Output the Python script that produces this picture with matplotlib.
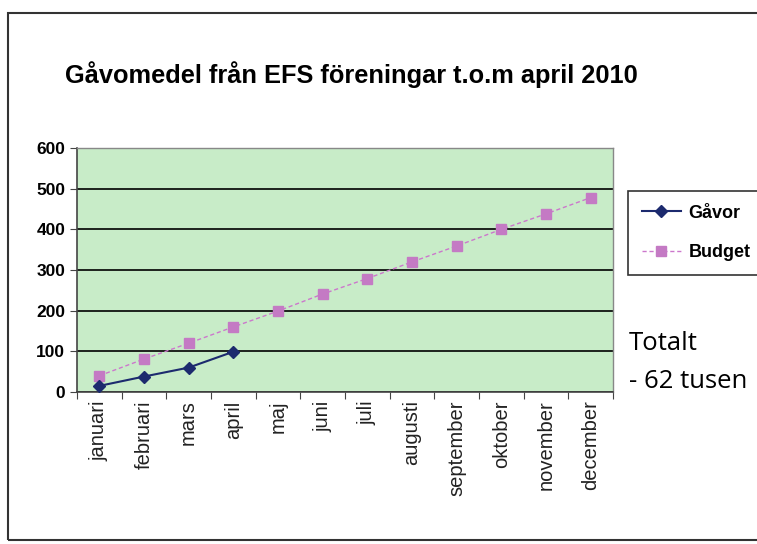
import matplotlib
matplotlib.use("Agg")
import matplotlib.pyplot as plt
from matplotlib.patches import Rectangle

months = ["januari", "februari", "mars", "april", "maj", "juni", "juli",
          "augusti", "september", "oktober", "november", "december"]
gavor = [15, 38, 60, 99]
budget = [40, 81, 120, 160, 199, 241, 279, 320, 359, 400, 438, 478]
yticks = [0, 100, 200, 300, 400, 500, 600]

font = "Liberation Sans"

fig = plt.figure(figsize=(7.57, 5.44), dpi=100)
fig.patch.set_facecolor("white")

# outer chart frame
fig.add_artist(Rectangle((8/757, 4/544), 760/757, 527/544, transform=fig.transFigure,
                         fill=False, edgecolor="#333333", linewidth=1.5))

ax = fig.add_axes([77/757, 1 - 392/544, 536/757, 244/544])
ax.set_facecolor("#c8ecc8")
x = list(range(len(months)))
ax.plot(x, budget, color="#cc77cc", linestyle=(0, (3, 2)), linewidth=1.0,
        marker="s", markersize=6.5, markerfacecolor="#c47ac4", markeredgecolor="#c47ac4",
        label="Budget", zorder=3)
ax.plot(x[:len(gavor)], gavor, color="#1c2a6e", linewidth=1.5,
        marker="D", markersize=6, markerfacecolor="#1c2a6e", markeredgecolor="#1c2a6e",
        label="Gåvor", zorder=4)

ax.set_xlim(-0.5, len(months) - 0.5)
ax.set_ylim(0, 600)
ax.set_yticks(yticks)
ax.set_yticklabels([str(v) for v in yticks], fontsize=12.5, fontweight="bold", family=font)
ax.yaxis.grid(True, color="black", linewidth=1.2)
ax.set_axisbelow(True)
ax.set_xticks([i - 0.5 for i in range(len(months) + 1)])
ax.set_xticklabels([])
ax.set_xticks(x, minor=True)
ax.set_xticklabels(months, minor=True, rotation=90, fontsize=14.5, family=font,
                   color="#222222")
ax.tick_params(axis="x", which="minor", length=0, pad=6)
ax.tick_params(axis="x", which="major", length=5, direction="out", color="#444444")
ax.tick_params(axis="y", length=5, direction="out", color="#444444")
for s in ["top", "right"]:
    ax.spines[s].set_color("#888888")
    ax.spines[s].set_linewidth(1.0)
for s in ["left", "bottom"]:
    ax.spines[s].set_color("#444444")
    ax.spines[s].set_linewidth(1.2)

handles, labels = ax.get_legend_handles_labels()
leg = fig.legend([handles[1], handles[0]], [labels[1], labels[0]],
                 loc="upper left", bbox_to_anchor=(619/757, 1 - 182/544),
                 prop={"family": font, "weight": "bold", "size": 13},
                 frameon=True, fancybox=False, edgecolor="black", handlelength=2.2,
                 handletextpad=0.4, borderpad=0.75, labelspacing=1.25)
leg.get_frame().set_linewidth(1.2)

fig.text(65/757, 1 - 75/544, "Gåvomedel från EFS föreningar t.o.m april 2010",
         fontsize=18.3, fontweight="bold", family=font, va="center", ha="left")

fig.text(629/757, 1 - 343/544, "Totalt", fontsize=18.5, family="Open Sans", va="center")
fig.text(629/757, 1 - 381/544, "- 62 tusen", fontsize=18.5, family="Open Sans", va="center")

fig.savefig("out.png", dpi=100)
